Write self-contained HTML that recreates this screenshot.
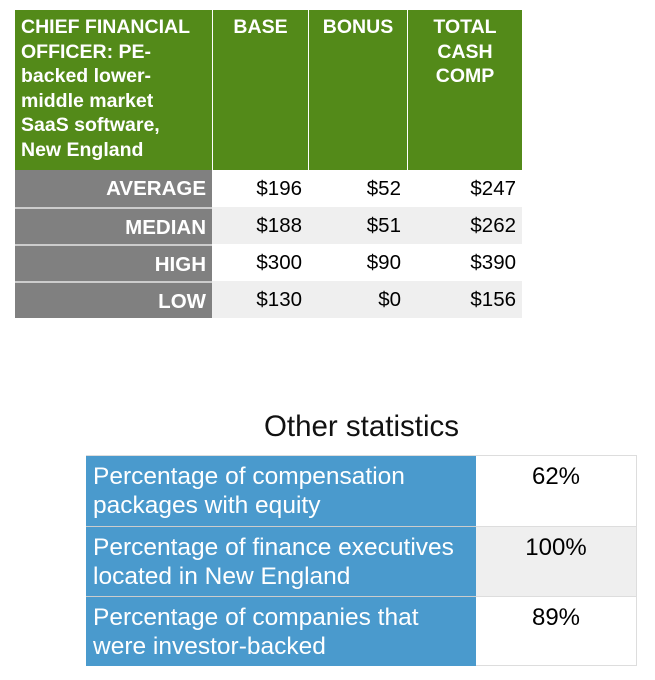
<!DOCTYPE html>
<html><head><style>
body{margin:0;width:655px;height:680px;background:#fff;font-family:"Liberation Sans",Arial,sans-serif;position:relative;overflow:hidden}
.a{position:absolute;box-sizing:border-box}
.g{background:#538a19;color:#fff;font-weight:bold;font-size:19.5px;line-height:24.5px;top:10px;height:160px;padding-top:5px;white-space:nowrap}
.r{font-size:20.5px;height:37px;line-height:37px;padding-right:6px;text-align:right}
.l{background:#808080;color:#fff;font-weight:bold}
.b{background:#4a9acd;color:#fff;font-size:24.5px;line-height:29px;padding:6px 7px;height:70px;white-space:nowrap}
.v{font-size:24px;text-align:center;padding-top:7px;height:70px;border-right:1px solid #ddd}
</style></head><body>
<div class="a g" style="left:15px;width:197px;padding-left:6px">CHIEF FINANCIAL<br>OFFICER: PE-<br>backed lower-<br>middle market<br>SaaS software,<br>New England</div>
<div class="a g" style="left:213px;width:95px;text-align:center">BASE</div>
<div class="a g" style="left:309px;width:98px;text-align:center">BONUS</div>
<div class="a g" style="left:408px;width:114px;text-align:center">TOTAL<br>CASH<br>COMP</div>

<div class="a" style="left:15px;top:170px;width:507px;height:148px">
<div style="position:absolute;top:0;left:0;width:507px;height:37px;background:#fff"></div>
<div style="position:absolute;top:37px;left:0;width:507px;height:37px;background:#efefef"></div>
<div style="position:absolute;top:74px;left:0;width:507px;height:37px;background:#fff"></div>
<div style="position:absolute;top:111px;left:0;width:507px;height:37px;background:#efefef"></div>
</div>
<div class="a r l" style="left:15px;top:170px;width:197px">AVERAGE</div>
<div class="a r l" style="left:15px;top:207px;width:197px;border-top:2px solid #ccc">MEDIAN</div>
<div class="a r l" style="left:15px;top:244px;width:197px;border-top:2px solid #ccc">HIGH</div>
<div class="a r l" style="left:15px;top:281px;width:197px;border-top:2px solid #ccc">LOW</div>

<div class="a r" style="left:213px;top:170px;width:95px">$196</div>
<div class="a r" style="left:309px;top:170px;width:98px">$52</div>
<div class="a r" style="left:408px;top:170px;width:114px">$247</div>
<div class="a r" style="left:213px;top:207px;width:95px">$188</div>
<div class="a r" style="left:309px;top:207px;width:98px">$51</div>
<div class="a r" style="left:408px;top:207px;width:114px">$262</div>
<div class="a r" style="left:213px;top:244px;width:95px">$300</div>
<div class="a r" style="left:309px;top:244px;width:98px">$90</div>
<div class="a r" style="left:408px;top:244px;width:114px">$390</div>
<div class="a r" style="left:213px;top:281px;width:95px">$130</div>
<div class="a r" style="left:309px;top:281px;width:98px">$0</div>
<div class="a r" style="left:408px;top:281px;width:114px">$156</div>

<div class="a" style="left:86px;top:408px;width:551px;text-align:center;font-size:29.5px;line-height:38px;color:#111">Other statistics</div>
<div class="a" style="left:86px;top:455px;width:551px;height:1px;background:#ddd"></div>
<div class="a b" style="left:86px;top:456px;width:390px">Percentage of compensation<br>packages with equity</div>
<div class="a v" style="left:476px;top:456px;width:161px;background:#fff">62%</div>
<div class="a b" style="left:86px;top:526px;width:390px;border-top:1px solid #ccc">Percentage of finance executives<br>located in New England</div>
<div class="a v" style="left:476px;top:526px;width:161px;background:#efefef;border-top:1px solid #ddd">100%</div>
<div class="a b" style="left:86px;top:596px;width:390px;border-top:1px solid #ccc">Percentage of companies that<br>were investor-backed</div>
<div class="a v" style="left:476px;top:596px;width:161px;background:#fff;border-top:1px solid #ddd;border-bottom:1px solid #ddd">89%</div>
</body></html>
